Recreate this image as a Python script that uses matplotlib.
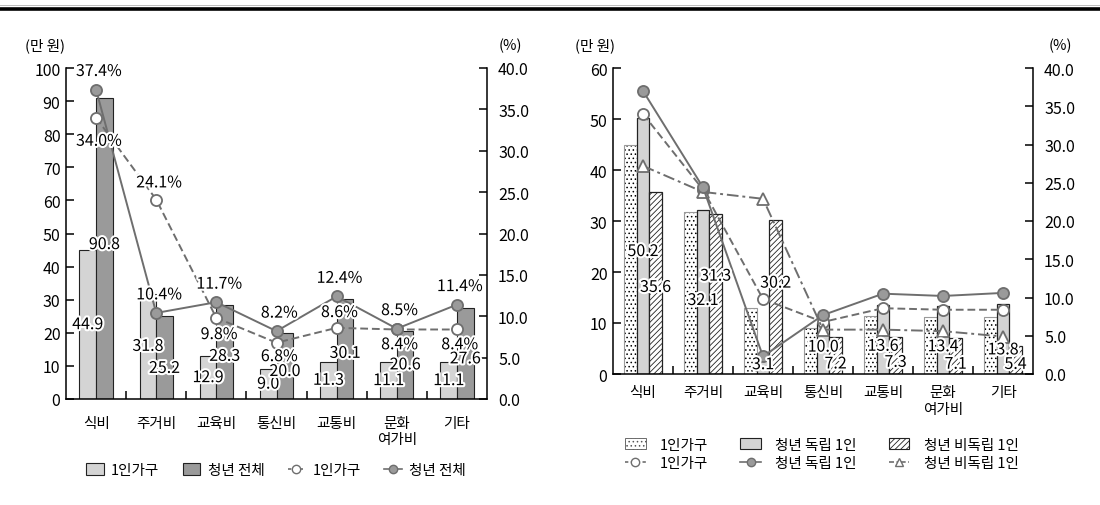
import numpy as np
import matplotlib
matplotlib.use('Agg')
import matplotlib.pyplot as plt
import matplotlib.patheffects as pe
from matplotlib.lines import Line2D
from matplotlib.patches import Patch

plt.rcParams['font.family'] = ['Noto Sans CJK KR', 'DejaVu Sans']
plt.rcParams['hatch.linewidth'] = 0.6

## dati
cats = ['식비', '주거비', '교육비', '통신비', '교통비', '문화\n여가비', '기타']

# grafico sinistro (만 원, %)
one_amt = [44.9, 31.8, 12.9, 9.0, 11.3, 11.1, 11.1]
youth_amt = [90.8, 25.2, 28.3, 20.0, 30.1, 20.6, 27.6]
one_pct = [34.0, 24.1, 9.8, 6.8, 8.6, 8.4, 8.4]
youth_pct = [37.4, 10.4, 11.7, 8.2, 12.4, 8.5, 11.4]

# grafico destro
indep_amt = [50.2, 32.1, 3.1, 10.0, 13.6, 13.4, 13.8]
dep_amt = [35.6, 31.3, 30.2, 7.2, 7.3, 7.1, 5.4]
indep_pct = [37.0, 24.4, 2.3, 7.7, 10.5, 10.2, 10.6]
dep_pct = [27.2, 23.8, 22.9, 5.8, 5.8, 5.6, 4.9]

# stile
LIGHT = '#d4d4d4'
DARK = '#9a9a9a'
LINE = '#6e6e6e'
NUMSIZE = 11.5
KSIZE = 10.5
halo = [pe.withStroke(linewidth=3, foreground='white')]

x = np.arange(len(cats))
W, H = 1100, 506
fig = plt.figure(figsize=(W / 100, H / 100), dpi=100)


def setup(ax, axr, ymax, ypad_l, xpad):
    ax.set_xlim(-0.5, len(cats) - 0.5)
    ax.set_ylim(0, ymax)
    axr.set_ylim(0, 40)
    for a in (ax, axr):
        a.spines['top'].set_visible(False)
    ax.spines['right'].set_visible(False)
    axr.spines['left'].set_visible(False)
    axr.spines['bottom'].set_visible(False)
    for s in ('left', 'bottom'):
        ax.spines[s].set_linewidth(1.1)
    axr.spines['right'].set_linewidth(1.1)
    ax.set_xticks(x, cats, fontsize=KSIZE, linespacing=1.25)
    ax.set_xticks(x[:-1] + 0.5, minor=True)
    ax.tick_params(axis='x', which='major', length=0, pad=xpad)
    ax.tick_params(axis='x', which='minor', direction='in', length=6, width=1.1)
    ax.tick_params(axis='y', direction='in', length=6, width=1.1,
                   labelsize=NUMSIZE, pad=ypad_l)
    axr.set_yticks(np.arange(0, 41, 5))
    axr.set_yticklabels(['%.1f' % v for v in np.arange(0, 41, 5)])
    axr.tick_params(axis='y', direction='in', length=6, width=1.1,
                    labelsize=NUMSIZE, pad=8)


## grafico sinistro
ax1 = fig.add_axes([66 / W, 1 - 400 / H, 421 / W, 331 / H])
ax1r = ax1.twinx()
setup(ax1, ax1r, 100, 4, 12)
ax1.set_yticks(np.arange(0, 101, 10))

w1 = 0.277
ax1.bar(x - w1 / 2, one_amt, w1, color=LIGHT, edgecolor='#222222', lw=0.8)
ax1.bar(x + w1 / 2, youth_amt, w1, color=DARK, edgecolor='#222222', lw=0.8)

ax1r.plot(x, one_pct, ls=(0, (4, 2)), color=LINE, lw=1.4, marker='o', ms=8,
          mfc='white', mec=LINE, mew=1.3, zorder=3)
ax1r.plot(x, youth_pct, ls='-', color=LINE, lw=1.4, marker='o', ms=8,
          mfc=DARK, mec=LINE, mew=1.3, zorder=4)

# etichette barre
youth_dy = [3, -8, -3, -4, -3, 0, -4]
for i in x:
    ax1r.annotate('%.1f' % one_amt[i], (i - w1 / 2, one_amt[i] / 2 * 0.4),
                  ha='center', va='center', fontsize=NUMSIZE, path_effects=halo, zorder=6)
    ax1r.annotate('%.1f' % youth_amt[i], (i + w1 / 2, youth_amt[i] / 2 * 0.4),
                  xytext=(0, youth_dy[i]), textcoords='offset points',
                  ha='center', va='center', fontsize=NUMSIZE, path_effects=halo, zorder=6)
# etichette percentuali
one_dy = [-17, 12, -12, -10, 11, -11, -11]
for i in x:
    ax1r.annotate('%.1f%%' % youth_pct[i], (i, youth_pct[i]), xytext=(2, 13),
                  textcoords='offset points', ha='center', va='center',
                  fontsize=NUMSIZE, path_effects=halo, zorder=7)
    ax1r.annotate('%.1f%%' % one_pct[i], (i, one_pct[i]), xytext=(2, one_dy[i]),
                  textcoords='offset points', ha='center', va='center',
                  fontsize=NUMSIZE, path_effects=halo, zorder=7)

fig.text(45 / W, 1 - 46 / H, '(만 원)', ha='center', va='center', fontsize=10.5)
fig.text(510 / W, 1 - 46 / H, '(%)', ha='center', va='center', fontsize=10.5)

h1 = [Patch(facecolor=LIGHT, edgecolor='#222222', lw=0.8),
      Patch(facecolor=DARK, edgecolor='#222222', lw=0.8),
      Line2D([], [], ls=(0, (2, 1.5)), color=LINE, lw=1.2, marker='o', ms=6,
             mfc='white', mec=LINE),
      Line2D([], [], ls='-', color=LINE, lw=1.2, marker='o', ms=6,
             mfc=DARK, mec=LINE)]
fig.legend(h1, ['1인가구', '청년 전체', '1인가구', '청년 전체'], ncol=4,
           loc='center', bbox_to_anchor=(276 / W, 1 - 471 / H), frameon=False,
           fontsize=KSIZE, handlelength=1.2, handleheight=0.8, handletextpad=0.5,
           columnspacing=1.6)

## grafico destro
ax2 = fig.add_axes([613 / W, 1 - 375 / H, 420 / W, 306 / H])
ax2r = ax2.twinx()
setup(ax2, ax2r, 60, 4, 8)
ax2.set_yticks(np.arange(0, 61, 10))

w2 = 0.21
ax2.bar(x - w2, one_amt, w2, color='white', edgecolor='black', lw=0, hatch='....')
ax2.bar(x - w2, one_amt, w2, fill=False, edgecolor='#9a9a9a', lw=0.8)
ax2.bar(x, indep_amt, w2, color=LIGHT, edgecolor='#222222', lw=0.9)
ax2.bar(x + w2, dep_amt, w2, color='white', edgecolor='#222222', lw=0.9, hatch='//////')

ax2r.plot(x, one_pct, ls=(0, (4, 2)), color=LINE, lw=1.4, marker='o', ms=8,
          mfc='white', mec=LINE, mew=1.3, zorder=3)
ax2r.plot(x, dep_pct, ls=(0, (6, 2, 1.5, 2)), color=LINE, lw=1.4, marker='^', ms=8,
          mfc='white', mec=LINE, mew=1.3, zorder=3)
ax2r.plot(x, indep_pct, ls='-', color=LINE, lw=1.4, marker='o', ms=8,
          mfc=DARK, mec=LINE, mew=1.3, zorder=4)

indep_dy = [-4, -6, 1, 1, -5, -5, -8]
dep_dy = [-3, 13, 10, -6, -5, -6, -3]
for i in x:
    ax2r.annotate('%.1f' % indep_amt[i], (i, indep_amt[i] / 2 * 40 / 60),
                  xytext=(0, indep_dy[i]), textcoords='offset points',
                  ha='center', va='center', fontsize=NUMSIZE, path_effects=halo, zorder=6)
    ax2r.annotate('%.1f' % dep_amt[i], (i + w2, dep_amt[i] / 2 * 40 / 60),
                  xytext=(0, dep_dy[i]), textcoords='offset points',
                  ha='center', va='center', fontsize=NUMSIZE, path_effects=halo, zorder=6)

fig.text(595 / W, 1 - 46 / H, '(만 원)', ha='center', va='center', fontsize=10.5)
fig.text(1060 / W, 1 - 46 / H, '(%)', ha='center', va='center', fontsize=10.5)

h2 = [Patch(facecolor='white', edgecolor='#555555', lw=0.6, hatch='....'),
      Line2D([], [], ls=(0, (2, 1.5)), color=LINE, lw=1.2, marker='o', ms=6,
             mfc='white', mec=LINE),
      Patch(facecolor=LIGHT, edgecolor='#222222', lw=0.8),
      Line2D([], [], ls='-', color=LINE, lw=1.2, marker='o', ms=6, mfc=DARK, mec=LINE),
      Patch(facecolor='white', edgecolor='#222222', lw=0.8, hatch='//////'),
      Line2D([], [], ls=(0, (3, 1.5, 1, 1.5)), color=LINE, lw=1.2, marker='^', ms=6,
             mfc='white', mec=LINE)]
fig.legend(h2, ['1인가구', '1인가구', '청년 독립 1인', '청년 독립 1인',
                '청년 비독립 1인', '청년 비독립 1인'], ncol=3,
           loc='center', bbox_to_anchor=(822 / W, 1 - 455 / H), frameon=False,
           fontsize=KSIZE, handlelength=1.4, handleheight=0.8, handletextpad=1.0,
           columnspacing=2.2, labelspacing=0.3)

# linea superiore
fig.add_artist(Line2D([0, 1], [1 - 9.5 / H] * 2, transform=fig.transFigure,
                      color='black', lw=2.6))
fig.add_artist(Line2D([0, 1], [1 - 6 / H] * 2, transform=fig.transFigure,
                      color='#bbbbbb', lw=0.7))

fig.savefig('out.png', dpi=100)
